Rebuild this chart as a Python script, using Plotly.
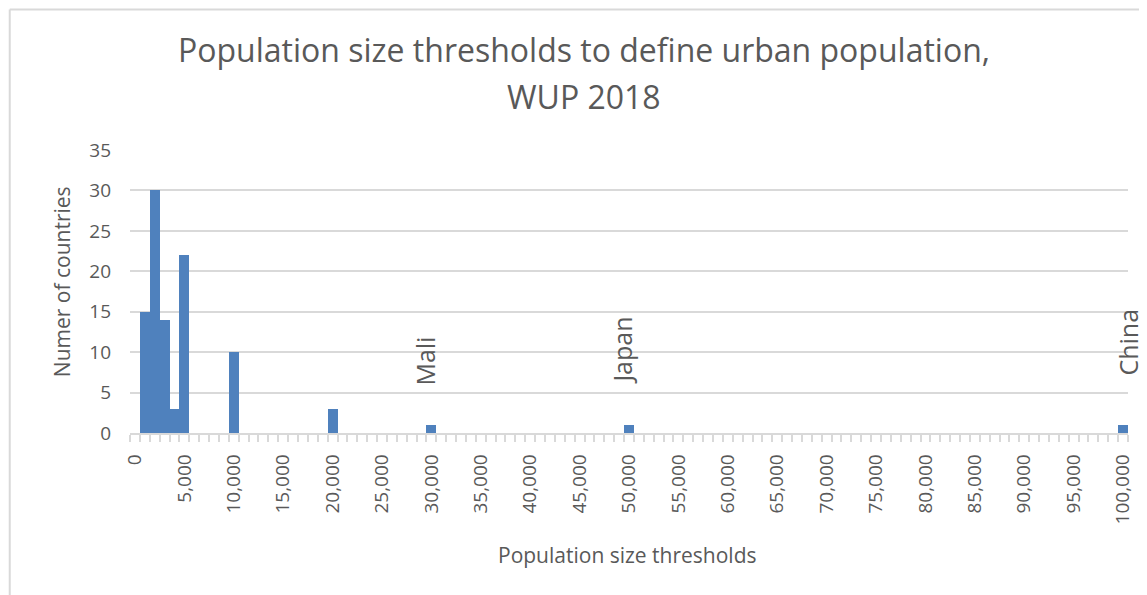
import plotly.graph_objects as go

# Data
thresholds = [1000, 2000, 3000, 4000, 5000, 10000, 20000, 30000, 50000, 100000]
countries = [15, 30, 14, 3, 22, 10, 3, 1, 1, 1]
label_names = ["Mali", "Japan", "China"]
label_x = [30000, 50000, 100000]
label_y = [5.6, 5.8, 6.8]
label_shift = [-6, -7, 4]
tick_vals = list(range(0, 100001, 5000))
tick_text = [f"{v:,}" for v in tick_vals]

FONT = "Open Sans"
TXT = "#595959"
GRID = "#d9d9d9"

# page offset (body margin)
OFF = 8
W, H = 1147 - OFF, 595 - OFF
PL, PR, PT, PB = 130, 1130, 150, 433  # plot area in page pixels
L, R, T, B = PL - OFF, W - (PR - OFF), PT - OFF, H - (PB - OFF)
pw, ph = W - L - R, H - T - B


def px(xp):
    return (xp - PL) / pw


def py(yp):
    return (PB - yp) / ph


fig = go.Figure()
fig.add_trace(go.Bar(
    x=thresholds, y=countries, width=1000,
    marker=dict(color="#4F81BD", line=dict(width=0)),
    showlegend=False,
))

fig.update_layout(
    width=W, height=H,
    margin=dict(l=L, r=R, t=T, b=B),
    paper_bgcolor="white", plot_bgcolor="white",
    font=dict(family=FONT, color=TXT),
    bargap=0,
    xaxis=dict(
        range=[-500, 100500],
        tickvals=tick_vals, ticktext=tick_text,
        tickangle=-90,
        ticks="", showgrid=False, zeroline=False,
        showline=True, linecolor=GRID, linewidth=1.5,
        tickfont=dict(family=FONT, size=19, color=TXT),
        ticklabelstandoff=12,
        minor=dict(ticks="outside", tick0=-500, dtick=1000, ticklen=7,
                   tickcolor=GRID, tickwidth=1.5, showgrid=False),
    ),
    yaxis=dict(
        range=[0, 35], dtick=5, tick0=0,
        showgrid=True, gridcolor=GRID, gridwidth=1.5,
        zeroline=False, showline=False, ticks="",
        tickfont=dict(family=FONT, size=19, color=TXT),
        ticklabelstandoff=18,
    ),
)

annotations = []
for name, xv, yv, sh in zip(label_names, label_x, label_y, label_shift):
    annotations.append(dict(
        x=xv, y=yv, xref="x", yref="y", text=name, showarrow=False,
        textangle=-90, yanchor="bottom", xanchor="center", xshift=sh,
        font=dict(family=FONT, size=25, color=TXT),
    ))
# title lines
annotations.append(dict(
    x=px(585), y=py(50), xref="paper", yref="paper",
    text="Population size thresholds to define urban population,", showarrow=False,
    xanchor="center", yanchor="middle",
    font=dict(family=FONT, size=32, color=TXT),
))
annotations.append(dict(
    x=px(585), y=py(96), xref="paper", yref="paper",
    text="WUP 2018", showarrow=False,
    xanchor="center", yanchor="middle",
    font=dict(family=FONT, size=32, color=TXT),
))
# axis titles
annotations.append(dict(
    x=px(628), y=py(555), xref="paper", yref="paper",
    text="Population size thresholds", showarrow=False,
    xanchor="center", yanchor="middle",
    font=dict(family=FONT, size=21, color=TXT),
))
annotations.append(dict(
    x=px(62), y=py(282), xref="paper", yref="paper",
    text="Numer of countries", showarrow=False, textangle=-90,
    xanchor="center", yanchor="middle",
    font=dict(family=FONT, size=21, color=TXT),
))
fig.update_layout(annotations=annotations)

fig.update_layout(shapes=[
    dict(type="line", xref="paper", yref="paper", x0=px(9.5), x1=px(9.5), y0=py(9.5), y1=py(620),
         line=dict(color=GRID, width=2)),
    dict(type="line", xref="paper", yref="paper", x0=px(9.5), x1=px(1160), y0=py(9.5), y1=py(9.5),
         line=dict(color=GRID, width=2)),
])

fig.write_html("out.html")
